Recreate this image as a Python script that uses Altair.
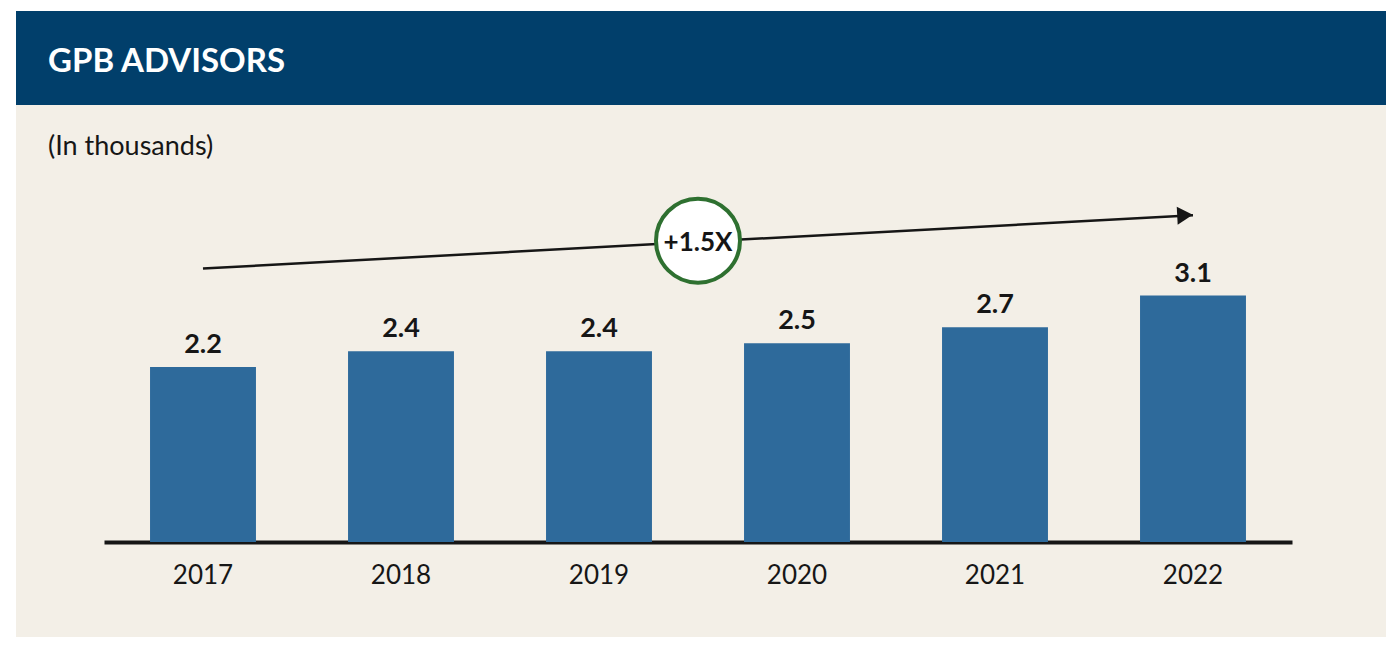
import altair as alt
import pandas as pd

# ---- data ----
years = ["2017", "2018", "2019", "2020", "2021", "2022"]
advisors = [2.2, 2.4, 2.4, 2.5, 2.7, 3.1]
value_labels = ["2.2", "2.4", "2.4", "2.5", "2.7", "3.1"]

title_text = "GPB ADVISORS"
subtitle_text = "(In thousands)"
growth_text = "+1.5X"

# annotation arrow (from 2017 to 2022, above the bars)
arrow_years = ["2017", "2022"]
arrow_levels = [3.44, 4.11]
badge_year = ["2019"]
badge_level = [3.79]

bars_df = pd.DataFrame({"year": years, "value": advisors, "label": value_labels})
arrow_df = pd.DataFrame({"year": arrow_years, "value": arrow_levels})
head_df = arrow_df.iloc[[-1]]
badge_df = pd.DataFrame({"year": badge_year, "value": badge_level, "text": [growth_text]})
one = alt.Data(values=[{}])

# ---- layout ----
W, H = 1370, 626
BASE = 531
PX_PER_UNIT = 79.5
X0, X1 = 88, 1276
STEP = (X1 - X0) / len(years)

NAVY = "#013f6b"
BEIGE = "#f3efe7"
BAR = "#2e6a9b"
INK = "#161616"
GREEN = "#2e7030"
FONT = "Lato"

xscale = alt.Scale(domain=years, range=[X0, X1], paddingInner=0.465, paddingOuter=0.2325)
yscale = alt.Scale(domain=[0, BASE / PX_PER_UNIT], range=[BASE, 0])

x = alt.X(
    "year:N",
    scale=xscale,
    sort=years,
    axis=alt.Axis(
        title=None,
        orient="bottom",
        offset=BASE - H,
        domainWidth=4,
        domainColor=INK,
        ticks=False,
        tickSize=0,
        grid=False,
        labelPadding=41,
        labelBaseline="alphabetic",
        labelFont=FONT,
        labelFontSize=26,
        labelColor=INK,
        labelAngle=0,
    ),
)
y = alt.Y("value:Q", scale=yscale, axis=None)

header = alt.Chart(one).mark_rect(color=NAVY).encode(
    x=alt.value(0), x2=alt.value(W), y=alt.value(0), y2=alt.value(94)
)
header_text = alt.Chart(one).mark_text(
    text=title_text, align="left", baseline="alphabetic", font=FONT,
    fontSize=33, fontWeight="bold", color="white",
).encode(x=alt.value(32), y=alt.value(61))
sub_text = alt.Chart(one).mark_text(
    text=subtitle_text, align="left", baseline="alphabetic", font=FONT,
    fontSize=27, color=INK,
).encode(x=alt.value(32), y=alt.value(144))

bars = alt.Chart(bars_df).mark_bar(color=BAR).encode(x=x, y=y)
bar_labels = alt.Chart(bars_df).mark_text(
    baseline="alphabetic", dy=-14, font=FONT, fontSize=27, fontWeight="bold", color=INK
).encode(x=x, y=y, text="label:N")

arrow_line = alt.Chart(arrow_df).mark_line(color=INK, strokeWidth=2.5).encode(x=x, y=y)
arrow_head = alt.Chart(head_df).mark_point(
    shape="triangle-right", size=324, filled=True, color=INK, opacity=1,
    angle=357, xOffset=-8,
).encode(x=x, y=y)

badge = alt.Chart(badge_df).mark_point(
    shape="circle", size=7056, fill="white", stroke=GREEN, strokeWidth=4,
    fillOpacity=1, strokeOpacity=1, opacity=1, xOffset=STEP / 2,
).encode(x=x, y=y)
badge_text = alt.Chart(badge_df).mark_text(
    baseline="alphabetic", dy=10, xOffset=STEP / 2, font=FONT, fontSize=26,
    fontWeight="bold", color=INK,
).encode(x=x, y=y, text="text:N")

chart = (
    alt.layer(header, header_text, sub_text, bars, bar_labels, arrow_line, arrow_head, badge, badge_text)
    .properties(
        width=W,
        height=H,
        autosize=alt.AutoSizeParams(type="none"),
        padding={"left": 8, "top": 3, "right": 6, "bottom": 8},
        background="white",
    )
    .configure_view(fill=BEIGE, stroke=None)
)

chart.save("out.html", embed_options={"renderer": "svg", "actions": False})
